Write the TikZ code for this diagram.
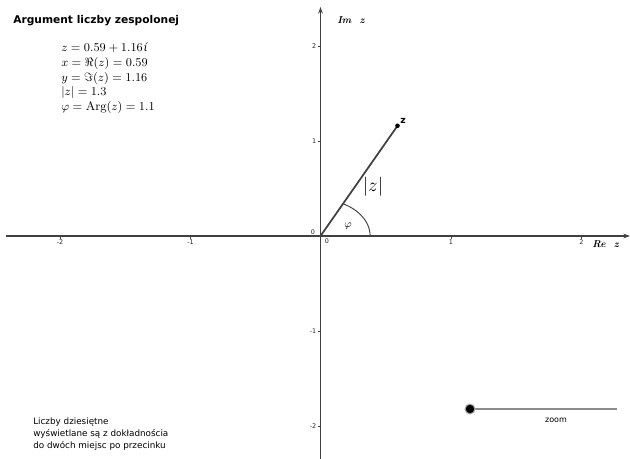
\documentclass[tikz,border=0pt]{standalone}
\usepackage{fontspec}
\usepackage{amsmath}
\newfontfamily\dvsans{DejaVu Sans}
\newfontfamily\dvserif{DejaVu Serif}
\usetikzlibrary{arrows.meta}
\begin{document}
\begin{tikzpicture}[x=0.75pt,y=-0.75pt,
  axis/.style={draw=black!75,line width=0.8pt},
  ticklab/.style={font=\dvsans\fontsize{4.8}{5}\selectfont,inner sep=0pt,text=black!85},
  axlab/.style={font=\bfseries\itshape\fontsize{7.5}{8}\selectfont,inner sep=0pt},
  tickmark/.style={draw=black!75,line width=0.5pt}]
\useasboundingbox[fill=white] (0,0) rectangle (630,459);
% coordinates
\coordinate (O) at (320.5,236);
\coordinate (xl) at (6,236);
\coordinate (xr) at (630,236);
\coordinate (yb) at (320.5,459);
\coordinate (yt) at (320.5,7);
% axes
\draw[axis,-{Stealth[length=5pt,width=3.5pt]}] (xl) -- (xr);
\draw[axis,-{Stealth[length=5pt,width=3.5pt]}] (yb) -- (yt);
% x ticks
\foreach \v/\p in {-2/60,-1/190.5,1/451,2/581.5}{
  \draw[tickmark] (\p,236) -- (\p,239);
  \node[ticklab] at (\p,242) {\v};
}
% y ticks
\foreach \v/\p in {2/46,1/141,-1/331,-2/426}{
  \draw[tickmark] (317.5,\p) -- (320.5,\p);
  \node[ticklab,anchor=east] at (316.5,\p) {\v};
}
\node[ticklab] (o1) at (313,232.5) {0};
\node[ticklab] (o2) at (327,241) {0};
\node[axlab,anchor=west] (im) at (337,20) {Im\ \ z};
\node[axlab,anchor=west] (re) at (592,244) {Re\ \ z};
% vector
\coordinate (Z) at (397.5,125.8);
\draw[draw=black!75,line width=1.3pt] (O) -- (Z);
\fill[black] (Z) circle (2.3);
\node[font=\dvsans\bfseries\fontsize{7}{8}\selectfont,inner sep=0pt] (zl) at (403,121) {z};
% angle arc (circle in data coordinates)
\draw[draw=black!75,line width=0.7pt] plot[domain=0:1.1,samples=40,smooth] ({320.5+49.6*cos(\x r)},{236-36.1*sin(\x r)});
\node[inner sep=0pt,font=\fontsize{8.5}{9}\selectfont] (phi) at (348,226) {$\varphi$};
\node[inner sep=0pt,font=\fontsize{14}{16}\selectfont] (abs) at (373,187) {$|z|$};
% title
\node[anchor=west,inner sep=0pt,font=\dvsans\bfseries\fontsize{8}{10}\selectfont] (title) at (13,21) {Argument liczby zespolonej};
% formulas
\node[anchor=north west,inner sep=0pt,align=left,font=\fontsize{9.3}{11}\selectfont] (form) at (61,43) {%
$z = 0.59 + 1.16$\kern0.5pt{\dvserif\itshape\fontsize{8}{9}\selectfont ί}\\
$x = \Re(z) = 0.59$\\
$y = \Im(z) = 1.16$\\
$|z| = 1.3$\\
$\varphi = \operatorname{Arg}(z) = 1.1$};
% bottom note
\node[anchor=north west,inner sep=0pt,align=left,font=\dvsans\fontsize{6.6}{9}\selectfont] (note) at (33,418) {Liczby dziesiętne\\wyświetlane są z dokładnościa\\do dwóch miejsc po przecinku};
% slider
\coordinate (s1) at (470,409);
\coordinate (s2) at (617,409);
\draw[draw=black!45,line width=2.2pt] (s1) -- (s2);
\fill[black!35] (s1) circle (5.5);
\fill[black] (s1) circle (4.2);
\node[inner sep=0pt,font=\dvsans\fontsize{6}{7}\selectfont] (zoom) at (556,420) {zoom};
\end{tikzpicture}
\end{document}
